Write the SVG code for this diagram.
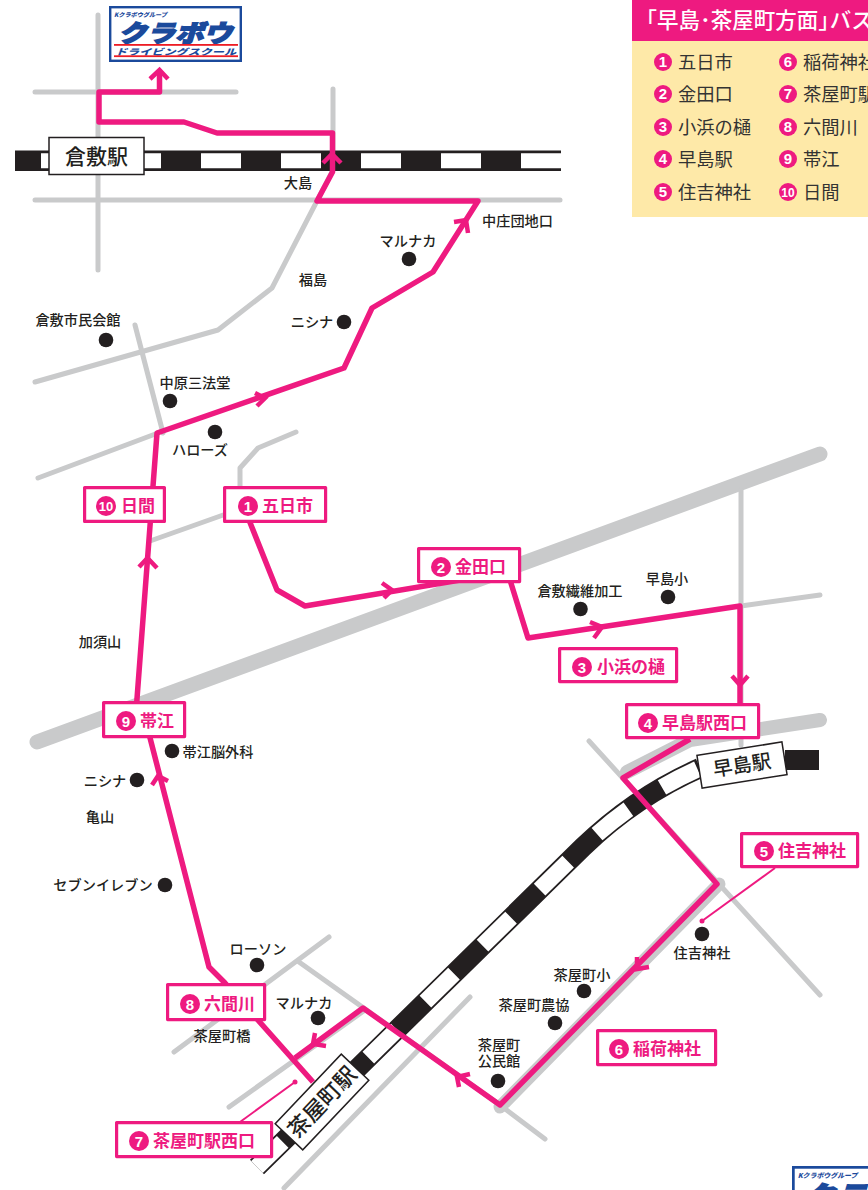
<svg xmlns="http://www.w3.org/2000/svg" width="868" height="1190" viewBox="0 0 868 1190">
<style>
text{font-family:"Noto Sans CJK JP","Liberation Sans",sans-serif}
.r{fill:none;stroke:#c9cacb;stroke-width:5;stroke-linecap:round;stroke-linejoin:round}
.rt{fill:none;stroke:#c9cacb;stroke-width:15;stroke-linecap:round;stroke-linejoin:round}
.p{fill:none;stroke:#ee1a80;stroke-width:5.500;stroke-linejoin:round}
.a{fill:none;stroke:#ee1a80;stroke-width:4.500}
.lb{fill:#fff;stroke:#ee1a80;stroke-width:3.200;stroke-linejoin:round}
.lt{fill:#ee1a80;font-size:17px;font-weight:700}
.n{fill:#fff;font-family:"Liberation Sans",sans-serif;font-size:15px;font-weight:700;text-anchor:middle}
.nc{fill:#ee1a80}
.m{fill:#231f20;font-size:14.200px;font-weight:500;text-anchor:middle}
.d{fill:#231f20}
.l{fill:#333;font-size:18.300px;font-weight:400}
.s{fill:#231f20;font-size:21px;font-weight:500;text-anchor:middle}
.bl{fill:#1b4a9c;font-weight:900;font-style:italic}
</style>
<g id="roads">
<path class="r" d="M98 15V270"/>
<path class="r" d="M35 92H236"/>
<path class="r" d="M333 89V170L272 288L218 330L35 382"/>
<path class="r" d="M35 200H560"/>
<path class="r" d="M135 325L163 433"/>
<path class="r" d="M38 478L158 433"/>
<path class="r" d="M240 492V468L258 448L296 432"/>
<path class="r" d="M150 541L226 514"/>
<path class="rt" d="M37 742L820 454"/>
<path class="r" d="M741 490V745"/>
<path class="r" d="M741 606L820 595"/>
<path class="rt" d="M627 772L690 740L820 720" style="stroke-width:14"/>
<path class="r" d="M589 741L820 995"/>
<path class="rt" d="M719 884L500 1107" style="stroke-width:13"/>
<path class="r" d="M500 1105L545 1139"/>
<path class="r" d="M299 962L500 1105"/>
<path class="r" d="M329 937L174 1052"/>
<path class="r" d="M229 1107L365 1010"/>
<path class="r" d="M284 1188L470 997"/>
</g>
<g id="railway">
<path d="M257 1167L583 847C610 821 650 790 700 768" fill="none" stroke="#231f20" stroke-width="20"/>
<path d="M257 1167L583 847C610 821 650 790 700 768" fill="none" stroke="#fff" stroke-width="16.500" stroke-dasharray="40 40" stroke-dashoffset="4"/>
<rect x="785" y="750" width="34" height="20" fill="#231f20"/>
<rect x="15" y="150.500" width="546" height="20.500" fill="#231f20"/>
<path d="M41 160.700H561" fill="none" stroke="#fff" stroke-width="15" stroke-dasharray="40 40"/>
</g>
<g id="connectors">
<path class="p" d="M159.500 72V92H99V122H184L217 133H332.500V172L317 201H478L433 272L372 308L344 368L157 433L136 712"/>
<path class="p" d="M148 730L209 967L225 983L313 1082"/>
<path class="p" d="M249 520L277 590L305 606L520 570"/>
<path class="p" d="M510 580L528 638L740 606V710"/>
<path class="p" d="M690 739L623 778L717 884L500 1105L363 1008L295 1058"/>
<g class="a">
<path d="M150 79L159.500 70L168 79"/>
<path d="M323 163L332 154L341 163"/>
<path d="M454 222L466 220L468 233"/>
<path d="M255 393L265 398L257 406"/>
<path d="M139 567L147.500 558L157 568"/>
<path d="M382 583L392 590L384 598"/>
<path d="M590 622L602 627L594 638"/>
<path d="M732 676L740 685L748 676"/>
<path d="M637 957L637 969L649 967"/>
<path d="M470 1074L457 1077L459 1087"/>
<path d="M315 1033L313 1044L326 1046"/>
<path d="M152 785L158 776L168 781"/>
</g>
<path d="M775 868L702 921" stroke="#ee1a80" stroke-width="2" fill="none"/>
<circle cx="702" cy="921" r="2.500" fill="#ee1a80"/>
<path d="M240 1122L295 1082" stroke="#ee1a80" stroke-width="2" fill="none"/>
<circle cx="295" cy="1082" r="2.500" fill="#ee1a80"/>
</g>
<g id="logo-top">
<rect x="110.200" y="7.200" width="130.600" height="53.600" fill="#fff" stroke="#1b4a9c" stroke-width="2.400"/>
<text class="bl" x="114" y="16.500" font-size="6" textLength="53" lengthAdjust="spacingAndGlyphs">Kクラボウグループ</text>
<text class="bl" x="118" y="41.500" font-size="24" textLength="114" lengthAdjust="spacingAndGlyphs" stroke="#1b4a9c" stroke-width="1.400">クラボウ</text>
<rect x="114" y="44" width="124" height="1.800" fill="#ed1c24"/>
<text class="bl" x="115" y="54.500" font-size="8.500" textLength="121" lengthAdjust="spacingAndGlyphs">ドライビングスクール</text>
<rect x="114" y="55.300" width="124" height="1.800" fill="#ed1c24"/>
</g>
<g id="legend">
<rect x="632" y="0" width="236" height="217" fill="#fee9a8"/>
<rect x="632" y="0" width="236" height="41" fill="#ee1a80"/>
<text x="635.500" y="27.500" fill="#fff" font-size="21.500" font-weight="500">「早島･茶屋町方面」<tspan dx="-10">バス</tspan></text>
<g id="legend-items">
<circle class="nc" cx="663" cy="62" r="9"/><text class="n" x="663" y="67">1</text><text class="l" x="678" y="68.500">五日市</text>
<circle class="nc" cx="663" cy="94" r="9"/><text class="n" x="663" y="99">2</text><text class="l" x="678" y="100.500">金田口</text>
<circle class="nc" cx="663" cy="127" r="9"/><text class="n" x="663" y="132">3</text><text class="l" x="678" y="133.500">小浜の樋</text>
<circle class="nc" cx="663" cy="159" r="9"/><text class="n" x="663" y="164">4</text><text class="l" x="678" y="165.500">早島駅</text>
<circle class="nc" cx="663" cy="192" r="9"/><text class="n" x="663" y="197">5</text><text class="l" x="678" y="198.500">住吉神社</text>
<circle class="nc" cx="788" cy="62" r="9"/><text class="n" x="788" y="67">6</text><text class="l" x="803" y="68.500">稲荷神社</text>
<circle class="nc" cx="788" cy="94" r="9"/><text class="n" x="788" y="99">7</text><text class="l" x="803" y="100.500">茶屋町駅</text>
<circle class="nc" cx="788" cy="127" r="9"/><text class="n" x="788" y="132">8</text><text class="l" x="803" y="133.500">六間川</text>
<circle class="nc" cx="788" cy="159" r="9"/><text class="n" x="788" y="164">9</text><text class="l" x="803" y="165.500">帯江</text>
<circle class="nc" cx="788" cy="192" r="9"/><text class="n" x="788" y="197" style="font-size:12px">10</text><text class="l" x="803" y="198.500">日間</text>
</g>
</g>
<g id="station-kurashiki"><rect x="49" y="137.500" width="95" height="37" fill="#fff" stroke="#231f20" stroke-width="1.500"/><text class="s" x="96.500" y="163.500">倉敷駅</text></g>
<g id="station-hayashima"><g transform="translate(742 765) rotate(-9)"><rect x="-43" y="-16.500" width="86" height="33" fill="#fff" stroke="#231f20" stroke-width="1.500"/><text class="s" x="0" y="7" style="font-size:19.500px">早島駅</text></g></g>
<g id="station-chayamachi"><g transform="translate(322 1102) rotate(-46.500)"><rect x="-48" y="-19" width="96" height="38" fill="#fff" stroke="#231f20" stroke-width="1.500"/><text class="s" x="0" y="8" style="font-size:22px">茶屋町駅</text></g></g>
<g id="landmarks">
<text class="m" x="298" y="188">大島</text>
<text class="m" x="517.500" y="226">中庄団地口</text>
<text class="m" x="408" y="246">マルナカ</text><circle class="d" cx="409" cy="259" r="7.300"/>
<text class="m" x="313" y="285">福島</text>
<text class="m" x="312" y="327">ニシナ</text><circle class="d" cx="344" cy="322" r="7.300"/>
<text class="m" x="78" y="325">倉敷市民会館</text><circle class="d" cx="106" cy="340" r="7.300"/>
<text class="m" x="195" y="388">中原三法堂</text><circle class="d" cx="170" cy="401" r="7.300"/>
<circle class="d" cx="215" cy="432" r="7.300"/><text class="m" x="200" y="455">ハローズ</text>
<text class="m" x="580" y="596">倉敷繊維加工</text><circle class="d" cx="580.500" cy="609" r="7.300"/>
<text class="m" x="667" y="584">早島小</text><circle class="d" cx="668" cy="597" r="7.300"/>
<text class="m" x="100" y="647">加須山</text>
<circle class="d" cx="172" cy="751" r="7.300"/><text class="m" x="218" y="757">帯江脳外科</text>
<text class="m" x="105" y="786">ニシナ</text><circle class="d" cx="137" cy="780" r="7.300"/>
<text class="m" x="100" y="822">亀山</text>
<text class="m" x="103" y="890">セブンイレブン</text><circle class="d" cx="165" cy="885" r="7.300"/>
<text class="m" x="258" y="954">ローソン</text><circle class="d" cx="257" cy="965" r="7.300"/>
<text class="m" x="304" y="1008">マルナカ</text><circle class="d" cx="318" cy="1018" r="7.300"/>
<text class="m" x="222" y="1041">茶屋町橋</text>
<circle class="d" cx="702" cy="934" r="7.300"/><text class="m" x="702" y="958">住吉神社</text>
<text class="m" x="582" y="980">茶屋町小</text><circle class="d" cx="584" cy="991" r="7.300"/>
<text class="m" x="534" y="1010">茶屋町農協</text><circle class="d" cx="555" cy="1023" r="7.300"/>
<text class="m" x="499" y="1050">茶屋町</text><text class="m" x="499" y="1066">公民館</text><circle class="d" cx="498" cy="1081" r="7.300"/>
</g>
<g id="stop-1"><rect class="lb" x="224.600" y="487.600" width="101" height="33.800"/><circle class="nc" cx="248" cy="506" r="10"/><text class="n" x="248" y="511.500">1</text><text class="lt" x="262" y="512">五日市</text></g>
<g id="stop-2"><rect class="lb" x="418.600" y="548.600" width="101" height="33"/><circle class="nc" cx="441" cy="567" r="10"/><text class="n" x="441" y="572.500">2</text><text class="lt" x="455" y="573">金田口</text></g>
<g id="stop-3"><rect class="lb" x="559.600" y="648.600" width="117" height="33"/><circle class="nc" cx="582" cy="667" r="10"/><text class="n" x="582" y="672.500">3</text><text class="lt" x="597" y="673">小浜の樋</text></g>
<g id="stop-4"><rect class="lb" x="626.600" y="704.600" width="132" height="33"/><circle class="nc" cx="648" cy="723" r="10"/><text class="n" x="648" y="728.500">4</text><text class="lt" x="662" y="729">早島駅西口</text></g>
<g id="stop-5"><rect class="lb" x="741.600" y="833.600" width="116" height="33"/><circle class="nc" cx="764" cy="851" r="10"/><text class="n" x="764" y="856.500">5</text><text class="lt" x="778" y="857">住吉神社</text></g>
<g id="stop-6"><rect class="lb" x="597.600" y="1030.600" width="118" height="34"/><circle class="nc" cx="619" cy="1049" r="10"/><text class="n" x="619" y="1054.500">6</text><text class="lt" x="633" y="1055">稲荷神社</text></g>
<g id="stop-7"><rect class="lb" x="116.600" y="1122.600" width="155" height="34"/><circle class="nc" cx="139" cy="1141" r="10"/><text class="n" x="139" y="1146.500">7</text><text class="lt" x="153" y="1147">茶屋町駅西口</text></g>
<g id="stop-8"><rect class="lb" x="167.600" y="984.600" width="97" height="35"/><circle class="nc" cx="190" cy="1004" r="10"/><text class="n" x="190" y="1009.500">8</text><text class="lt" x="204" y="1010">六間川</text></g>
<g id="stop-9"><rect class="lb" x="103.600" y="702.600" width="81" height="34"/><circle class="nc" cx="126" cy="721" r="10"/><text class="n" x="126" y="726.500">9</text><text class="lt" x="140" y="727">帯江</text></g>
<g id="stop-10"><rect class="lb" x="84.600" y="487.600" width="79.800" height="33.800"/><circle class="nc" cx="106" cy="506" r="10"/><text class="n" x="106" y="511" style="font-size:13px">10</text><text class="lt" x="121" y="512">日間</text></g>
<g id="logo-bottom" transform="translate(792 1166) scale(1.130) translate(-109 -6)">
<rect x="110.200" y="7.200" width="130.600" height="53.600" fill="#fff" stroke="#1b4a9c" stroke-width="2.400"/>
<text class="bl" x="114" y="16.500" font-size="6" textLength="53" lengthAdjust="spacingAndGlyphs">Kクラボウグループ</text>
<text class="bl" x="118" y="41.500" font-size="24" textLength="114" lengthAdjust="spacingAndGlyphs" stroke="#1b4a9c" stroke-width="1.400">クラボウ</text>
</g>
</svg>
